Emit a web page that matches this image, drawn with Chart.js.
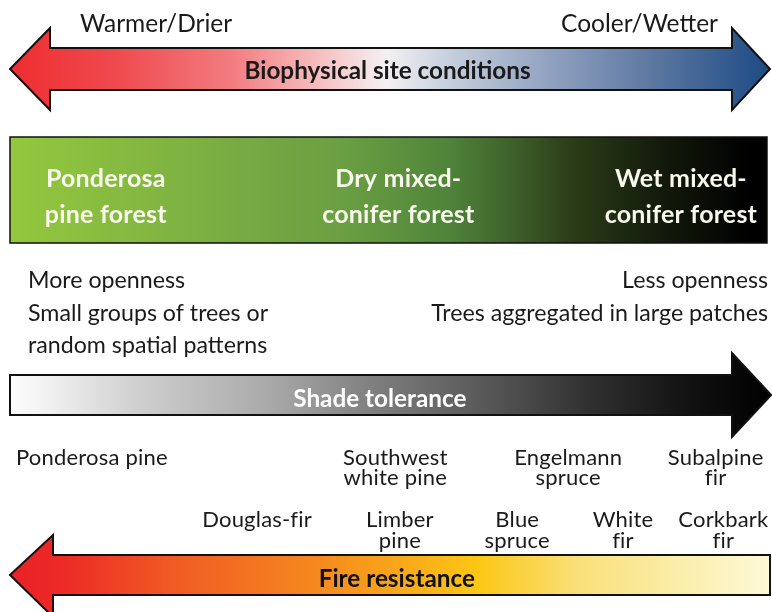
<!DOCTYPE html>
<html>
<head>
<meta charset="utf-8">
<script src="https://cdn.jsdelivr.net/npm/chart.js@4/dist/chart.umd.min.js"></script>
<style>
html,body{margin:0;padding:0;background:#fff;}
canvas{display:block;}
</style>
</head>
<body>
<canvas id="c" width="772" height="612"></canvas>
<script>
// ---------------- DATA ----------------
const forestTypes = ['Ponderosa\npine forest', 'Dry mixed-\nconifer forest', 'Wet mixed-\nconifer forest'];
const forestPosition = [13.7, 51.6, 88.2];          // position along the site-condition gradient (%)
const shadeSpecies = ['Ponderosa pine', 'Southwest\nwhite pine', 'Engelmann\nspruce', 'Subalpine\nfir'];
const shadeTolerance = [11.9, 51.2, 73.6, 92.7];      // position along shade-tolerance gradient (%)
const fireSpecies = ['Douglas-fir', 'Limber\npine', 'Blue\nspruce', 'White\nfir', 'Corkbark\nfir'];
const fireResistance = [33.3, 51.8, 67.0, 80.7, 93.7]; // position along fire-resistance gradient (%)
const gradientEnds = ['Warmer/Drier', 'Cooler/Wetter'];
const axisTitles = ['Biophysical site conditions', 'Shade tolerance', 'Fire resistance'];
const opennessLow = ['More openness', 'Small groups of trees or', 'random spatial patterns'];
const opennessHigh = ['Less openness', 'Trees aggregated in large patches'];

// ---------------- LAYOUT ----------------
const FONT = 'Lato, "Open Sans", sans-serif';
const ROW_FOREST = 187, ROW_SHADE = 465, ROW_FIRE = 527;

function noLig(ctx) {
  try { ctx.letterSpacing = '0.2px'; } catch (e) {}
  try { ctx.textRendering = 'optimizeSpeed'; } catch (e) {}
}

const labelPlugin = {
  id: 'diagram',
  beforeDatasetsDraw(chart) {
    const ctx = chart.ctx;
    const xs = chart.scales.x;
    const px = v => xs.getPixelForValue(v);
    const gx0 = px(0), gx1 = px(100);
    function grad(stops) {
      const g = ctx.createLinearGradient(gx0, 0, gx1, 0);
      stops.forEach(s => g.addColorStop(s[0], s[1]));
      return g;
    }
    function poly(pts, fill) {
      ctx.save();
      ctx.beginPath();
      ctx.moveTo(pts[0][0], pts[0][1]);
      for (let i = 1; i < pts.length; i++) ctx.lineTo(pts[i][0], pts[i][1]);
      ctx.closePath();
      ctx.fillStyle = fill;
      ctx.fill();
      ctx.lineWidth = 2;
      ctx.lineJoin = 'miter';
      ctx.strokeStyle = '#111';
      ctx.stroke();
      ctx.restore();
    }
    // top double arrow
    poly([[10,69],[50,28],[50,48],[732,48],[732,28],[770,69],[732,110],[732,90],[50,90],[50,110]],
      grad([[0,'#ee2a2e'],[0.15,'#ef4a4e'],[0.3,'#f27c80'],[0.42,'#f7c2c4'],[0.5,'#f4f0f2'],[0.58,'#c6d0de'],[0.72,'#8d9fbe'],[0.85,'#5a76a0'],[1,'#1c4a84']]));
    // forest band
    ctx.save();
    ctx.fillStyle = grad([[0,'#95c93d'],[0.25,'#7db142'],[0.45,'#6a9e42'],[0.58,'#4f843a'],[0.66,'#3f622c'],[0.74,'#2c3d18'],[0.85,'#141c0c'],[0.97,'#000']]);
    ctx.fillRect(10,137,757,106);
    ctx.lineWidth = 1.5; ctx.strokeStyle = '#111';
    ctx.strokeRect(10,137,757,106);
    ctx.restore();
    // shade arrow
    poly([[10,375],[732,375],[732,353],[771,395],[732,437],[732,415],[10,415]],
      grad([[0,'#ffffff'],[0.05,'#f4f4f4'],[0.18,'#cfcfcf'],[0.35,'#a9a9a9'],[0.5,'#7a7a7a'],[0.65,'#525252'],[0.76,'#313131'],[0.9,'#101010'],[1,'#000']]));
    // fire arrow
    poly([[10,575],[53,535],[53,555],[770,555],[770,595],[53,595],[53,617]],
      grad([[0,'#ea1f26'],[0.08,'#ec2a26'],[0.22,'#f05a24'],[0.4,'#f5861f'],[0.52,'#f9a81a'],[0.62,'#fcc715'],[0.75,'#f9e07a'],[0.9,'#fbf0b2'],[1,'#fdf9d8']]));

    // texts
    ctx.save();
    ctx.textBaseline = 'alphabetic';
    ctx.fillStyle = '#1a1a1a';
    ctx.font = '24.5px ' + FONT;
    ctx.textAlign = 'left';
    ctx.fillText(gradientEnds[0], 80, 32);
    ctx.textAlign = 'right';
    ctx.fillText(gradientEnds[1], 718, 32);
    ctx.textAlign = 'center';
    ctx.font = 'bold 24.3px ' + FONT;
    ctx.fillText(axisTitles[0], px(50.2), 79);
    ctx.fillStyle = '#ffffff';
    ctx.fillText(axisTitles[1], px(49.2), 407);
    ctx.fillStyle = '#111';
    ctx.fillText(axisTitles[2], px(51.4), 587);
    ctx.font = '23.2px ' + FONT;
    ctx.fillStyle = '#1a1a1a';
    ctx.textAlign = 'left';
    opennessLow.forEach((t, i) => ctx.fillText(t, 28, 288 + i * 32.5));
    ctx.textAlign = 'right';
    opennessHigh.forEach((t, i) => ctx.fillText(t, 768, 288 + i * 32.5));
    ctx.restore();
  },
  afterDatasetsDraw(chart) {
    const ctx = chart.ctx;
    chart.data.datasets.forEach((ds, di) => {
      const meta = chart.getDatasetMeta(di);
      meta.data.forEach((el, i) => {
        const lines = ds.labels[i].split('\n');
        ctx.save();
        noLig(ctx);
        ctx.textAlign = 'center';
        ctx.textBaseline = 'alphabetic';
        ctx.font = ds.labelFont;
        ctx.fillStyle = ds.labelColor;
        lines.forEach((l, k) => ctx.fillText(l, el.x, el.y + k * ds.lineGap));
        ctx.restore();
      });
    });
  }
};

new Chart(document.getElementById('c'), {
  type: 'scatter',
  data: {
    datasets: [
      { label: 'Forest types', labels: forestTypes, labelFont: 'bold 25px ' + FONT, labelColor: '#f8f8ec', lineGap: 36,
        data: forestPosition.map(v => ({ x: v, y: ROW_FOREST })), pointRadius: 0 },
      { label: 'Shade tolerance', labels: shadeSpecies, labelFont: '22px ' + FONT, labelColor: '#1a1a1a', lineGap: 20,
        data: shadeTolerance.map(v => ({ x: v, y: ROW_SHADE })), pointRadius: 0 },
      { label: 'Fire resistance', labels: fireSpecies, labelFont: '22px ' + FONT, labelColor: '#1a1a1a', lineGap: 21,
        data: fireResistance.map(v => ({ x: v, y: ROW_FIRE })), pointRadius: 0 }
    ]
  },
  options: {
    responsive: false,
    animation: false,
    devicePixelRatio: 1,
    layout: { padding: 0 },
    plugins: { legend: { display: false }, tooltip: { enabled: false } },
    scales: {
      x: { type: 'linear', display: false, min: 0, max: 100 },
      y: { type: 'linear', display: false, min: 0, max: 612, reverse: true }
    }
  },
  plugins: [labelPlugin]
});
</script>
</body>
</html>
